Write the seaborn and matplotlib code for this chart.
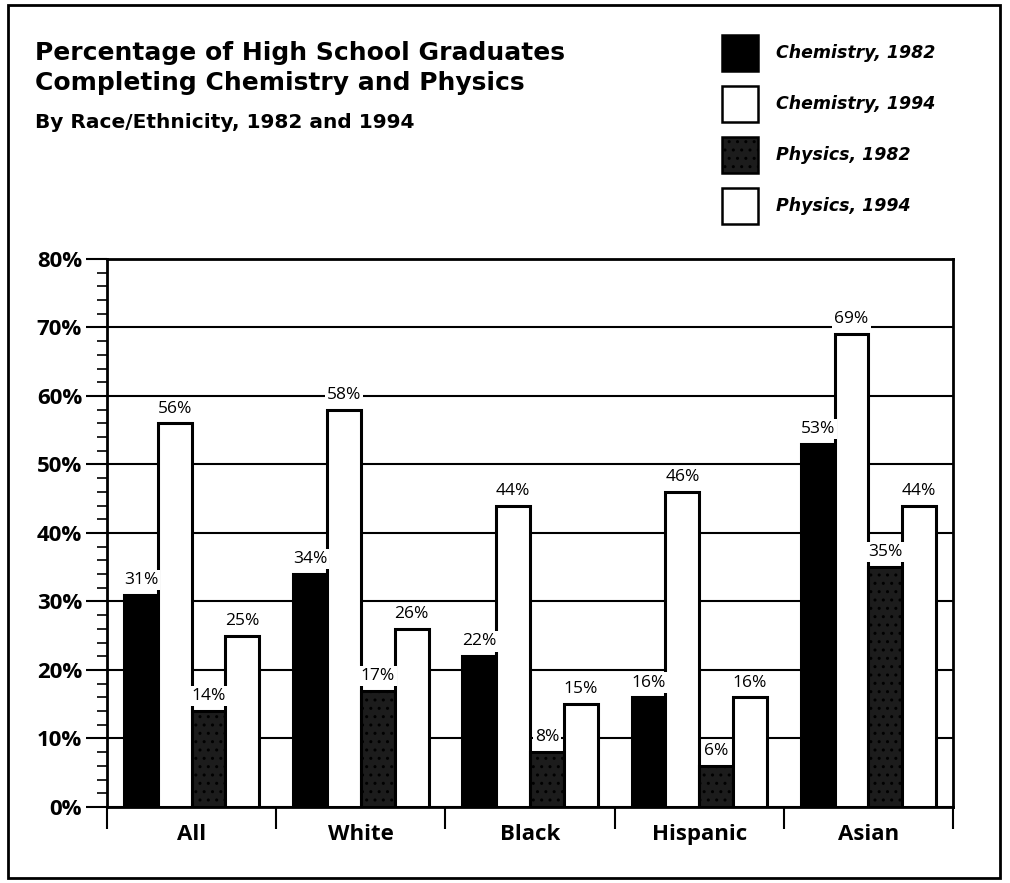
import pandas as pd
import numpy as np
import matplotlib

matplotlib.use("Agg")
import matplotlib.pyplot as plt
import seaborn as sns
from matplotlib.patches import Rectangle, Patch
from matplotlib.ticker import MultipleLocator, FixedLocator, FuncFormatter

# --- data ---
groups = ["All", "White", "Black", "Hispanic", "Asian"]
series = ["Chemistry, 1982", "Chemistry, 1994", "Physics, 1982", "Physics, 1994"]
chem_1982 = [31, 34, 22, 16, 53]
chem_1994 = [56, 58, 44, 46, 69]
phys_1982 = [14, 17, 8, 6, 35]
phys_1994 = [25, 26, 15, 16, 44]

values = [chem_1982, chem_1994, phys_1982, phys_1994]
df = pd.DataFrame(
    [
        {"group": g, "series": s, "pct": v}
        for s, vals in zip(series, values)
        for g, v in zip(groups, vals)
    ]
)

sns.set_style("white")
plt.rcParams["font.family"] = ["Open Sans", "DejaVu Sans"]
plt.rcParams["text.color"] = "black"
plt.rcParams["xtick.color"] = "black"
plt.rcParams["ytick.color"] = "black"
plt.rcParams["axes.labelcolor"] = "black"

fill_colors = ["black", "white", "#1c1c1c", "white"]
hatches = [None, None, "..", None]
HATCH_COLOR = "#9a9a9a"

fig = plt.figure(figsize=(10.1, 8.83), dpi=100)
ax = fig.add_axes([0.106, 0.0861, 0.8376, 0.6206])

sns.barplot(
    data=df,
    x="group",
    y="pct",
    hue="series",
    order=groups,
    hue_order=series,
    palette=fill_colors,
    saturation=1,
    edgecolor="black",
    linewidth=2.2,
    legend=False,
    ax=ax,
    zorder=3,
)

# stipple on physics 1982 + value labels above every bar
for i, container in enumerate(ax.containers):
    for bar, v in zip(container, values[i]):
        if hatches[i]:
            bar.set_hatch(hatches[i])
            if hasattr(bar, "set_hatchcolor"):
                bar.set_hatchcolor(HATCH_COLOR)
        cx = bar.get_x() + bar.get_width() / 2
        ax.text(
            cx,
            v + 1.0,
            f"{v}%",
            ha="center",
            va="bottom",
            fontsize=12.5,
            color="black",
            zorder=4,
            bbox=dict(boxstyle="square,pad=0.12", fc="white", ec="none"),
        )

# axes limits and ticks
ax.set_xlim(-0.5, 4.5)
ax.set_ylim(0, 80)
ax.yaxis.set_major_locator(MultipleLocator(10))
ax.yaxis.set_minor_locator(MultipleLocator(2))
ax.yaxis.set_major_formatter(FuncFormatter(lambda t, _: f"{int(round(t))}%"))
ax.tick_params(axis="y", which="major", direction="out", length=15, width=1.5,
               labelsize=16, left=True, pad=3, colors="black")
ax.tick_params(axis="y", which="minor", direction="out", length=7, width=1.2, left=True)
for lab in ax.get_yticklabels():
    lab.set_fontweight("bold")

ax.set_xticks(range(len(groups)))
ax.set_xticklabels(groups, fontsize=16, fontweight="bold")
ax.xaxis.set_minor_locator(FixedLocator(np.arange(-0.5, 5.0, 1.0)))
ax.tick_params(axis="x", which="major", length=0, pad=12, colors="black")
ax.tick_params(axis="x", which="minor", direction="out", length=16, width=1.5, bottom=True)

ax.set_xlabel("")
ax.set_ylabel("")
ax.grid(axis="y", which="major", color="black", linewidth=1.5, zorder=1)
ax.set_axisbelow(True)
for sp in ax.spines.values():
    sp.set_visible(True)
    sp.set_color("black")
    sp.set_linewidth(2)

# title block (wider face to match the original's spacing)
title_font = ["DejaVu Sans"]
fig.text(0.035, 0.932, "Percentage of High School Graduates", fontsize=18,
         fontweight="bold", va="baseline", family=title_font)
fig.text(0.035, 0.898, "Completing Chemistry and Physics", fontsize=18,
         fontweight="bold", va="baseline", family=title_font)
fig.text(0.035, 0.855, "By Race/Ethnicity, 1982 and 1994", fontsize=14.5,
         fontweight="bold", va="baseline", family=title_font)

# legend
handles = [
    Patch(facecolor=c, edgecolor="black", linewidth=1.8, hatch=h)
    for c, h in zip(fill_colors, hatches)
]
leg = fig.legend(
    handles,
    series,
    loc="upper left",
    bbox_to_anchor=(0.715, 0.9604),
    frameon=False,
    borderpad=0,
    borderaxespad=0,
    prop={"family": ["DejaVu Sans"], "size": 12.5,
          "style": "oblique", "weight": "bold"},
    handlelength=2.07,
    handleheight=2.81,
    labelspacing=0.86,
    handletextpad=1.04,
)
if hasattr(leg.legend_handles[2], "set_hatchcolor"):
    leg.legend_handles[2].set_hatchcolor(HATCH_COLOR)

# outer frame
fig.patches.append(
    Rectangle((0.008, 0.006), 0.982, 0.988, transform=fig.transFigure,
              fill=False, edgecolor="black", linewidth=2)
)

fig.savefig("out.png", dpi=100)
plt.close(fig)
